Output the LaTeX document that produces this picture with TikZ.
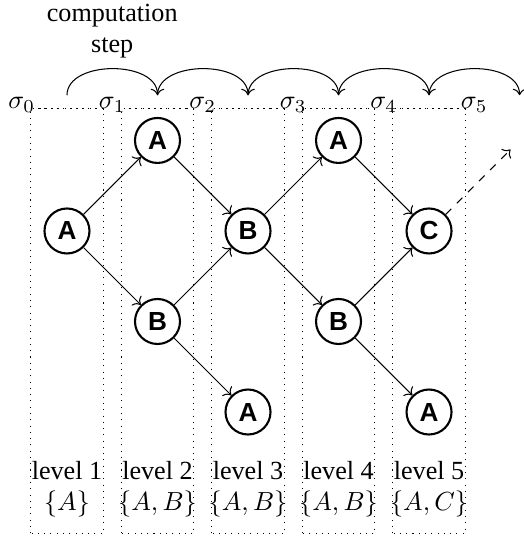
\documentclass[tikz,border=0pt]{standalone}
\usepackage[no-math]{fontspec}
\setmainfont{Liberation Serif}
\setsansfont{Liberation Sans}
\usetikzlibrary{arrows.meta, positioning}

\begin{document}
\begin{tikzpicture}[x=34.6pt, y=34.6pt,
        state/.style={circle, draw, thick, minimum size=17.2pt, inner sep=0pt, font=\sffamily\bfseries},
        lvlbox/.style={draw, dotted}]
    \useasboundingbox (-0.74,-3.403) rectangle (5.039,2.552);
    % levels
    \foreach \i/\set in {1/{A}, 2/{A,B}, 3/{A,B}, 4/{A,B}, 5/{A,C}} {
        \draw[lvlbox] (\i-1.4,-3.34) rectangle (\i-0.6,1.35);
        \node[align=center] (l\i) at (\i-1,-2.85) {level \i\\$\{\set\}$};
    }
    % states sigma
    \foreach \i in {0,...,5} {
        \node[anchor=base, inner sep=1pt] (s\i) at (\i-0.5,1.35) {$\sigma_{\i}$};
        \coordinate (c\i) at (\i,1.5);
    }
    \foreach \i/\j in {0/1,1/2,2/3,3/4,4/5} {
        \draw[dotted] (s\i.base east) -- (s\j.base west);
    }
    \draw[->] (c0) to[out=90,in=90] node[above=0.5pt, align=center] {computation\\step} (c1);
    \foreach \i/\j in {1/2,2/3,3/4,4/5} {
        \draw[->] (c\i) to[out=90,in=90] (c\j);
    }
    % tree
    \node[state] (A1) at (0,0) {A};
    \node[state] (A2) at (1,1) {A};
    \node[state] (B2) at (1,-1) {B};
    \node[state] (B3) at (2,0) {B};
    \node[state] (A3) at (2,-2) {A};
    \node[state] (A4) at (3,1) {A};
    \node[state] (B4) at (3,-1) {B};
    \node[state] (C5) at (4,0) {C};
    \node[state] (A5) at (4,-2) {A};
    \coordinate (next) at (4.9,0.9);
    \draw[->] (A1) to (A2);
    \draw[->] (A1) to (B2);
    \draw[->] (A2) to (B3);
    \draw[->] (B2) to (B3);
    \draw[->] (B2) to (A3);
    \draw[->] (B3) to (A4);
    \draw[->] (B3) to (B4);
    \draw[->] (A4) to (C5);
    \draw[->] (B4) to (C5);
    \draw[->] (B4) to (A5);
    \draw[->, dashed] (C5) to (next);
\end{tikzpicture}
\end{document}
